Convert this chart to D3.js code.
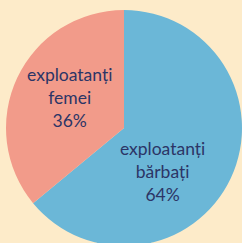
<!DOCTYPE html>
<html>
<head>
<meta charset="utf-8">
<script src="https://cdn.jsdelivr.net/npm/d3@7"></script>
<style>
  html, body { margin: 0; padding: 0; background: #fdebc9; }
  svg { display: block; }
</style>
</head>
<body>
<script>
// slices, clockwise from 12 o'clock
const names = ["exploatanți bărbați", "exploatanți femei"];
const labelLines = [["exploatanți", "bărbați"], ["exploatanți", "femei"]];
const shares = [64, 36];
const colors = ["#6bb7d7", "#f29b8a"];

const width = 242, height = 243;
const cx = 124, cy = 128, radius = 118;

const svg = d3.select("body").append("svg")
    .attr("width", width)
    .attr("height", height);

const pie = d3.pie().sort(null).value(d => d)(shares);
const arc = d3.arc().innerRadius(0).outerRadius(radius);

const g = svg.append("g")
    .attr("transform", `translate(${cx},${cy})`);

g.selectAll("path")
  .data(pie)
  .join("path")
    .attr("d", arc)
    .attr("fill", (d, i) => colors[i]);

// label spots: femei sits on its centroid, barbati is pushed down toward the bottom
const labelPos = d => {
  if (d.index === 0) {
    const a = 2.47;  // rad, clockwise from top
    return [Math.sin(a) * 62, -Math.cos(a) * 62];
  }
  const a = (d.startAngle + d.endAngle) / 2;
  return [Math.sin(a) * 60, -Math.cos(a) * 60];
};

const lineH = 23;
const label = g.selectAll("text.lbl")
  .data(pie)
  .join("text")
    .attr("class", "lbl")
    .attr("text-anchor", "middle")
    .attr("fill", "#2c3566")
    .style("font", "17.5px Lato, 'Open Sans', sans-serif")
    .attr("transform", d => `translate(${labelPos(d)})`);

label.each(function(d, i) {
  const lines = labelLines[i].concat([shares[i] + "%"]);
  d3.select(this).selectAll("tspan")
    .data(lines)
    .join("tspan")
      .attr("x", 0)
      .attr("y", (l, j) => (j - 1) * lineH + 1.5)
      .text(l => l);
});
</script>
</body>
</html>
